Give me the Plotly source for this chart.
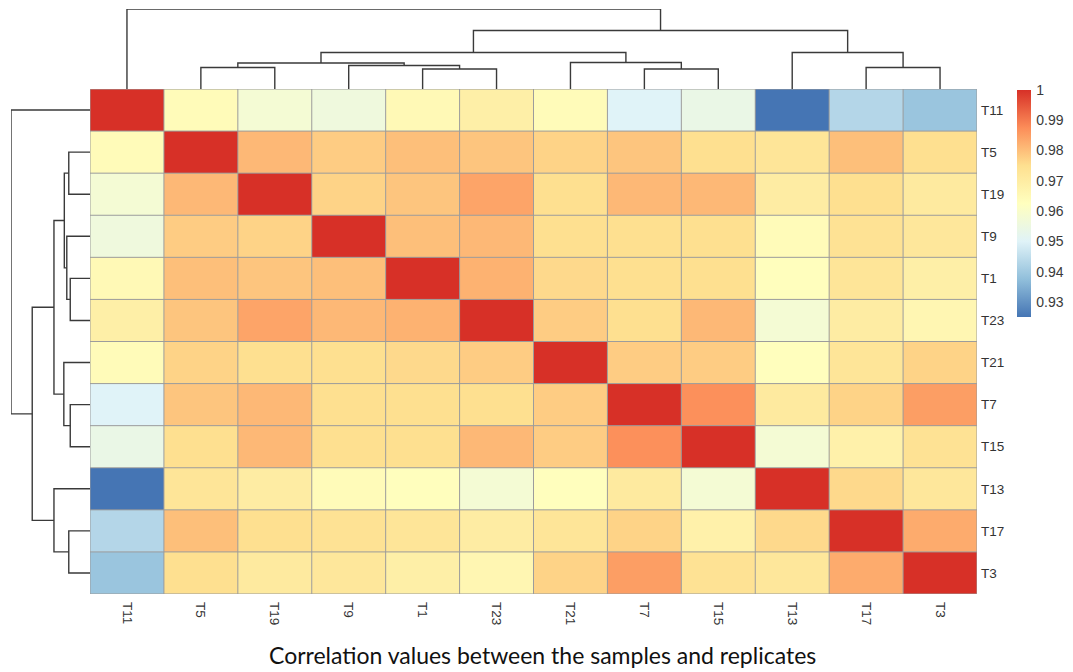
import numpy as np
import plotly.graph_objects as go

W, H = 1073, 672

samples = ["T11", "T5", "T19", "T9", "T1", "T23", "T21", "T7", "T15", "T13", "T17", "T3"]

# Upper triangle of the sample correlation matrix, one row per sample (diagonal first)
r_T11 = [1.000, 0.964, 0.958, 0.956, 0.965, 0.969, 0.964, 0.950, 0.954, 0.925, 0.943, 0.939]
r_T5 = [1.000, 0.981, 0.978, 0.980, 0.979, 0.977, 0.979, 0.975, 0.973, 0.980, 0.975]
r_T19 = [1.000, 0.977, 0.979, 0.984, 0.975, 0.981, 0.981, 0.970, 0.975, 0.971]
r_T9 = [1.000, 0.980, 0.981, 0.975, 0.975, 0.975, 0.964, 0.974, 0.972]
r_T1 = [1.000, 0.982, 0.976, 0.975, 0.975, 0.963, 0.973, 0.969]
r_T23 = [1.000, 0.978, 0.975, 0.981, 0.958, 0.970, 0.966]
r_T21 = [1.000, 0.978, 0.978, 0.963, 0.973, 0.977]
r_T7 = [1.000, 0.987, 0.971, 0.977, 0.985]
r_T15 = [1.000, 0.958, 0.968, 0.974]
r_T13 = [1.000, 0.976, 0.972]
r_T17 = [1.000, 0.983]
r_T3 = [1.000]

upper_rows = [r_T11, r_T5, r_T19, r_T9, r_T1, r_T23, r_T21, r_T7, r_T15, r_T13, r_T17, r_T3]

# Hierarchical clustering of the samples: (child a, child b, merge height)
# leaves are 0..11 in display order, merged nodes are numbered 12, 13, ...
merges = [
    (4, 5, 20.0),     # 12: T1 + T23
    (7, 8, 20.0),     # 13: T7 + T15
    (1, 2, 21.5),     # 14: T5 + T19
    (10, 11, 21.5),   # 15: T17 + T3
    (3, 12, 23.5),    # 16: T9 + (T1, T23)
    (14, 16, 26.0),   # 17
    (6, 13, 26.5),    # 18: T21 + (T7, T15)
    (17, 18, 36.5),   # 19
    (9, 15, 36.5),    # 20: T13 + (T17, T3)
    (19, 20, 58.5),   # 21
    (0, 21, 80.0),    # 22: root
]

color_stops = ["#4575B4", "#91BFDB", "#E0F3F8", "#FFFFBF", "#FEE090", "#FC8D59", "#D73027"]
cbar_ticks = [0.93, 0.94, 0.95, 0.96, 0.97, 0.98, 0.99, 1.00]
cbar_text = ["0.93", "0.94", "0.95", "0.96", "0.97", "0.98", "0.99", "1"]
title_text = "Correlation values between the samples and replicates"

# ---- build the symmetric matrix
n = len(samples)
corr = np.zeros((n, n))
for i, row in enumerate(upper_rows):
    for k, v in enumerate(row):
        corr[i, i + k] = v
        corr[i + k, i] = v

# ---- dendrogram segments
pos = {i: float(i) for i in range(n)}
hgt = {i: 0.0 for i in range(n)}
seg_p, seg_h = [], []
for k, (a, b, h) in enumerate(merges):
    node = n + k
    pos[node] = (pos[a] + pos[b]) / 2
    hgt[node] = h
    seg_p += [pos[a], pos[a], pos[b], pos[b], None]
    seg_h += [hgt[a], h, h, hgt[b], None]
root_h = max(m[2] for m in merges)

# ---- page geometry (pixels)
hm_l, hm_r, hm_t, hm_b = 90, 977, 89, 594
dend_top = 9
dend_left = 11

def px(x):
    return x / W

def py(y):
    return (H - y) / H

fig = go.Figure()

nstops = len(color_stops)
fig.add_trace(go.Heatmap(
    z=corr,
    x=list(range(n)),
    y=list(range(n)),
    zmin=corr.min(), zmax=corr.max(),
    colorscale=[[i / (nstops - 1), c] for i, c in enumerate(color_stops)],
    hoverinfo="skip",
    colorbar=dict(
        x=px(1017), xanchor="left",
        y=py(90), yanchor="top",
        xpad=0, ypad=0,
        len=(317 - 90) / H, lenmode="fraction",
        thickness=14, thicknessmode="pixels",
        outlinewidth=0,
        tickvals=cbar_ticks, ticktext=cbar_text,
        ticks="outside", ticklen=3, tickcolor="rgba(0,0,0,0)",
        tickfont=dict(family="Liberation Sans", size=14, color="#3a3a3a"),
    ),
    xaxis="x", yaxis="y",
))

line_style = dict(color="#3a3a3a", width=1.4)

# column dendrogram (top)
fig.add_trace(go.Scatter(x=seg_p, y=seg_h, mode="lines", line=line_style,
                         hoverinfo="skip", xaxis="x", yaxis="y2"))
# row dendrogram (left)
fig.add_trace(go.Scatter(x=seg_h, y=seg_p, mode="lines", line=line_style,
                         hoverinfo="skip", xaxis="x2", yaxis="y"))

# cell borders
shapes = []
grid_col = "#9c9c9c"
for i in range(n + 1):
    shapes.append(dict(type="line", xref="x", yref="y", x0=i - 0.5, x1=i - 0.5,
                       y0=-0.5, y1=n - 0.5, line=dict(color=grid_col, width=1), layer="above"))
    shapes.append(dict(type="line", xref="x", yref="y", y0=i - 0.5, y1=i - 0.5,
                       x0=-0.5, x1=n - 0.5, line=dict(color=grid_col, width=1), layer="above"))

tick_font = dict(family="Liberation Sans", size=13.5, color="#333333")

fig.update_layout(
    width=W, height=H,
    margin=dict(l=0, r=0, t=0, b=0, autoexpand=False),
    paper_bgcolor="white", plot_bgcolor="white",
    showlegend=False,
    shapes=shapes,
    xaxis=dict(domain=[px(hm_l), px(hm_r)], range=[-0.5, n - 0.5],
               tickvals=list(range(n)), ticktext=samples, tickangle=90,
               tickfont=tick_font, showgrid=False, zeroline=False, showline=False,
               ticks="", ticklabelstandoff=7, anchor="y", fixedrange=True),
    yaxis=dict(domain=[py(hm_b), py(hm_t)], range=[n - 0.5, -0.5],
               tickvals=list(range(n)), ticktext=samples, side="right",
               tickfont=tick_font, showgrid=False, zeroline=False, showline=False,
               ticks="", ticklabelstandoff=3, anchor="x", fixedrange=True),
    yaxis2=dict(domain=[py(hm_t), py(dend_top)], range=[0, root_h],
                visible=False, anchor="x", fixedrange=True),
    xaxis2=dict(domain=[px(dend_left), px(hm_l)], range=[root_h, 0],
                visible=False, anchor="y", fixedrange=True),
    annotations=[dict(
        text=title_text, xref="paper", yref="paper",
        x=px(542), y=py(655), xanchor="center", yanchor="middle",
        showarrow=False,
        font=dict(family="Lato", size=23, color="#111111"),
    )],
)

fig.write_html("out.html", config={"displayModeBar": False})
